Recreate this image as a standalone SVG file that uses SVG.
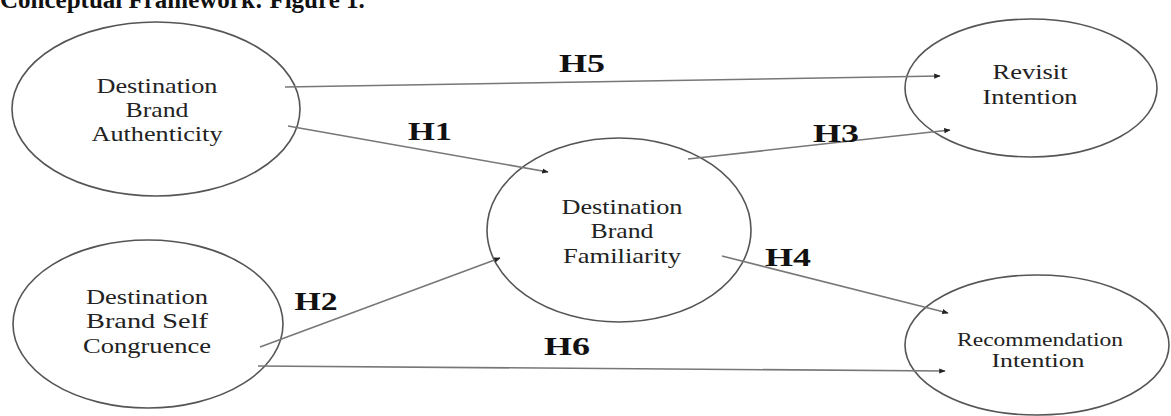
<svg xmlns="http://www.w3.org/2000/svg" width="1171" height="416" viewBox="0 0 1171 416">
<defs>
<marker id="ah" viewBox="0 0 10 10" refX="9" refY="5" markerWidth="4" markerHeight="4" orient="auto" markerUnits="strokeWidth">
<path d="M0,1 L10,5 L0,9 z" fill="#222"/>
</marker>
<style>
.node ellipse{fill:#fff;stroke:#555;stroke-width:1.6}
.node text{font-family:"Liberation Serif",serif;font-size:21px;fill:#222;text-anchor:middle}
.node text.sm{font-size:19px}
.conn line{stroke:#777;stroke-width:1.6;marker-end:url(#ah)}
.lbl{font-family:"Liberation Serif",serif;font-size:25px;font-weight:bold;fill:#111;text-anchor:middle}
.title{font-family:"Liberation Serif",serif;font-size:25px;font-weight:bold;fill:#111}
</style>
</defs>
<rect width="1171" height="416" fill="#fff"/>
<text class="title" x="0" y="8">Conceptual Framework: Figure 1.</text>
<g id="n-authenticity" class="node">
<ellipse cx="156" cy="109" rx="144" ry="87"/>
<text x="157" y="93" textLength="121" lengthAdjust="spacingAndGlyphs">Destination</text>
<text x="157" y="117" textLength="63" lengthAdjust="spacingAndGlyphs">Brand</text>
<text x="157" y="141" textLength="131" lengthAdjust="spacingAndGlyphs">Authenticity</text>
</g>
<g id="n-congruence" class="node">
<ellipse cx="148" cy="324" rx="135" ry="84"/>
<text x="147" y="304" textLength="122" lengthAdjust="spacingAndGlyphs">Destination</text>
<text x="147" y="328" textLength="122" lengthAdjust="spacingAndGlyphs">Brand  Self</text>
<text x="147" y="353" textLength="128" lengthAdjust="spacingAndGlyphs">Congruence</text>
</g>
<g id="n-familiarity" class="node">
<ellipse cx="619" cy="230" rx="132" ry="92"/>
<text x="622" y="214" textLength="121" lengthAdjust="spacingAndGlyphs">Destination</text>
<text x="622" y="238" textLength="63" lengthAdjust="spacingAndGlyphs">Brand</text>
<text x="622" y="263" textLength="118" lengthAdjust="spacingAndGlyphs">Familiarity</text>
</g>
<g id="n-revisit" class="node">
<ellipse cx="1031" cy="88" rx="126" ry="69"/>
<text x="1030" y="79" textLength="75" lengthAdjust="spacingAndGlyphs">Revisit</text>
<text x="1030" y="104" textLength="95" lengthAdjust="spacingAndGlyphs">Intention</text>
</g>
<g id="n-recommendation" class="node">
<ellipse cx="1037" cy="345" rx="132" ry="70"/>
<text class="sm" x="1040" y="346" textLength="166" lengthAdjust="spacingAndGlyphs">Recommendation</text>
<text class="sm" x="1038" y="367" textLength="93" lengthAdjust="spacingAndGlyphs">Intention</text>
</g>
<g id="connectors" class="conn">
<line x1="285" y1="87" x2="940" y2="76"/>
<line x1="288" y1="126" x2="548" y2="172"/>
<line x1="688" y1="159" x2="950" y2="130"/>
<line x1="260" y1="347" x2="500" y2="258"/>
<line x1="722" y1="256" x2="948" y2="313"/>
<line x1="258" y1="366" x2="945" y2="371"/>
</g>
<g id="labels">
<text class="lbl" x="582" y="72" textLength="46" lengthAdjust="spacingAndGlyphs">H5</text>
<text class="lbl" x="430" y="140" textLength="44" lengthAdjust="spacingAndGlyphs">H1</text>
<text class="lbl" x="836" y="142" textLength="46" lengthAdjust="spacingAndGlyphs">H3</text>
<text class="lbl" x="316" y="310" textLength="43" lengthAdjust="spacingAndGlyphs">H2</text>
<text class="lbl" x="788" y="266" textLength="46" lengthAdjust="spacingAndGlyphs">H4</text>
<text class="lbl" x="567" y="355" textLength="46" lengthAdjust="spacingAndGlyphs">H6</text>
</g>
</svg>
